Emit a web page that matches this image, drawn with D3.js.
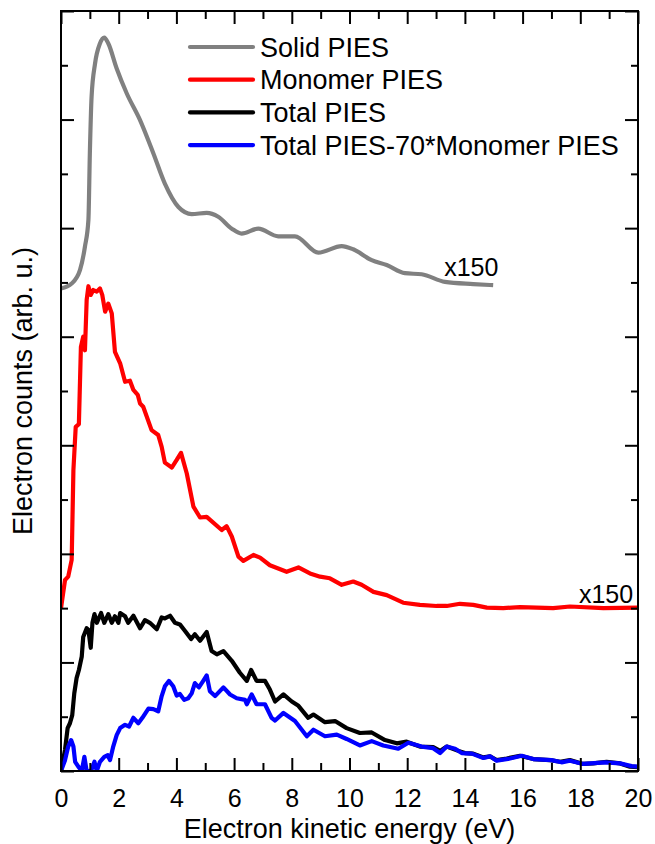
<!DOCTYPE html>
<html>
<head>
<meta charset="utf-8">
<script src="https://cdn.jsdelivr.net/npm/d3@7"></script>
<style>
  body { margin: 0; background: #fff; }
  text { font-family: "Liberation Sans", Arial, sans-serif; fill: #000; }
</style>
</head>
<body>
<script>
// values, y in axis tick units (offsets included)
var solidE = [0, 0.37, 0.66, 0.83, 0.95, 1.0, 1.06, 1.18, 1.35, 1.5, 1.64, 1.93, 2.28, 2.74, 3.2, 3.6, 4.07, 4.53, 5.05, 5.45, 5.92, 6.26, 6.84, 7.53, 8.11, 8.92, 9.73, 10.13, 10.77, 11.29, 11.92, 12.5, 13.31, 14.29, 14.98];
var solidY = [8.89, 8.98, 9.23, 9.66, 10.15, 11.38, 12.42, 13.03, 13.4, 13.51, 13.4, 12.94, 12.48, 11.99, 11.38, 10.82, 10.39, 10.26, 10.28, 10.21, 9.99, 9.9, 9.99, 9.85, 9.85, 9.55, 9.67, 9.61, 9.41, 9.32, 9.17, 9.15, 9.01, 8.97, 8.95];

var monoE = [0, 0.14, 0.25, 0.37, 0.43, 0.51, 0.62, 0.69, 0.77, 0.83, 0.89, 0.95, 1.03, 1.12, 1.24, 1.35, 1.43, 1.53, 1.64, 1.76, 1.87, 2.05, 2.22, 2.39, 2.51, 2.66, 2.74, 2.85, 3.14, 3.37, 3.49, 3.6, 3.84, 4.01, 4.16, 4.36, 4.59, 4.82, 5.05, 5.57, 5.74, 5.92, 6.15, 6.32, 6.67, 6.9, 7.24, 7.82, 8.23, 8.63, 8.98, 9.32, 9.73, 10.13, 10.42, 10.83, 11.29, 11.86, 12.44, 13.02, 13.37, 13.83, 14.29, 14.76, 15.33, 15.91, 17.06, 17.64, 18.8, 20];
var monoY = [3.0, 3.52, 3.58, 3.89, 5.54, 6.34, 6.39, 7.81, 8.0, 7.75, 8.68, 8.93, 8.77, 8.86, 8.83, 8.89, 8.77, 8.46, 8.61, 8.43, 7.72, 7.51, 7.17, 7.19, 7.02, 6.93, 6.77, 6.71, 6.28, 6.19, 5.97, 5.68, 5.59, 5.73, 5.86, 5.48, 4.87, 4.67, 4.68, 4.44, 4.51, 4.32, 3.95, 3.87, 3.98, 3.93, 3.79, 3.67, 3.75, 3.64, 3.58, 3.55, 3.43, 3.49, 3.43, 3.30, 3.24, 3.1, 3.06, 3.04, 3.04, 3.08, 3.06, 3.01, 3.0, 3.02, 3.0, 3.03, 3.0, 3.01];

var totalE = [0, 0.14, 0.23, 0.31, 0.39, 0.46, 0.54, 0.62, 0.72, 0.77, 0.89, 0.95, 1.03, 1.09, 1.16, 1.24, 1.39, 1.5, 1.64, 1.76, 1.87, 1.99, 2.05, 2.22, 2.33, 2.51, 2.74, 2.91, 3.08, 3.32, 3.49, 3.6, 3.78, 3.95, 4.12, 4.3, 4.51, 4.64, 4.82, 5.05, 5.22, 5.4, 5.63, 5.92, 6.2, 6.44, 6.59, 6.78, 7.07, 7.24, 7.42, 7.71, 8.0, 8.23, 8.57, 8.75, 9.15, 9.5, 9.9, 10.36, 10.77, 11.23, 11.64, 11.98, 12.44, 12.9, 13.14, 13.37, 13.72, 14.0, 14.29, 14.64, 14.87, 15.1, 15.45, 15.91, 16.37, 16.95, 17.3, 17.64, 18.1, 18.45, 18.91, 19.38, 19.72, 20];
var totalY = [0, 0.39, 0.79, 0.88, 1.03, 1.43, 1.71, 1.86, 2.11, 2.47, 2.63, 2.6, 2.27, 2.73, 2.89, 2.73, 2.91, 2.73, 2.89, 2.73, 2.85, 2.73, 2.91, 2.85, 2.73, 2.86, 2.63, 2.78, 2.73, 2.61, 2.83, 2.81, 2.86, 2.73, 2.7, 2.58, 2.43, 2.52, 2.4, 2.56, 2.21, 2.15, 2.21, 2.03, 1.81, 1.66, 1.86, 1.66, 1.66, 1.5, 1.28, 1.41, 1.28, 1.2, 0.98, 1.04, 0.9, 0.92, 0.79, 0.7, 0.71, 0.57, 0.51, 0.54, 0.45, 0.44, 0.37, 0.45, 0.38, 0.33, 0.32, 0.25, 0.27, 0.2, 0.23, 0.28, 0.22, 0.2, 0.17, 0.2, 0.13, 0.14, 0.17, 0.14, 0.08, 0.07];

var diffE = [0, 0.14, 0.25, 0.35, 0.43, 0.49, 0.6, 0.72, 0.81, 0.89, 1.04, 1.16, 1.24, 1.35, 1.5, 1.62, 1.7, 1.81, 1.93, 2.05, 2.22, 2.36, 2.51, 2.68, 2.82, 3.03, 3.2, 3.37, 3.49, 3.6, 3.74, 3.89, 4.01, 4.12, 4.27, 4.41, 4.53, 4.64, 4.78, 4.93, 5.05, 5.16, 5.34, 5.63, 5.86, 6.09, 6.38, 6.44, 6.61, 6.78, 7.07, 7.3, 7.42, 7.71, 8.11, 8.52, 8.75, 9.15, 9.56, 9.9, 10.36, 10.77, 11.17, 11.69, 12.04, 12.5, 12.9, 13.14, 13.37, 13.66, 13.89, 14.24, 14.64, 14.87, 15.1, 15.56, 15.97, 16.37, 17.0, 17.35, 17.64, 18.1, 18.86, 19.38, 19.78, 20];
var diffY = [0, 0.2, 0.45, 0.57, 0.45, 0.17, 0.08, 0, 0.26, 0, 0, 0.17, 0, 0.17, 0.26, 0.29, 0.2, 0.45, 0.66, 0.79, 0.85, 0.82, 0.98, 0.88, 0.98, 1.15, 1.14, 1.1, 1.38, 1.56, 1.66, 1.56, 1.39, 1.42, 1.31, 1.34, 1.43, 1.62, 1.54, 1.66, 1.76, 1.47, 1.38, 1.54, 1.41, 1.34, 1.31, 1.23, 1.41, 1.23, 1.23, 0.98, 0.93, 1.07, 0.92, 0.64, 0.76, 0.64, 0.67, 0.59, 0.47, 0.55, 0.47, 0.41, 0.52, 0.45, 0.42, 0.33, 0.45, 0.41, 0.33, 0.32, 0.24, 0.27, 0.19, 0.23, 0.28, 0.22, 0.2, 0.16, 0.19, 0.13, 0.16, 0.14, 0.09, 0.08];

var legendNames = ["Solid PIES", "Monomer PIES", "Total PIES", "Total PIES-70*Monomer PIES"];
var colors = ["#808080", "#ff0000", "#000000", "#0000ff"];
var xMajor = [0, 2, 4, 6, 8, 10, 12, 14, 16, 18, 20];
var xMinor = [1, 3, 5, 7, 9, 11, 13, 15, 17, 19];
var yMajor = [0, 2, 4, 6, 8, 10, 12, 14];
var yMinor = [1, 3, 5, 7, 9, 11, 13];

drawChart();

function drawChart(){

  //plot frame in pixels
  var width = 655, height = 844;
  var pL = 61, pR = 638, pT = 11, pB = 771;

  var svg = d3.select("body").append("svg")
      .attr("width", width)
      .attr("height", height);

  var x = d3.scaleLinear().domain([0, 20]).range([pL, pR]);
  var y = d3.scaleLinear().domain([0, 14]).range([pB, pT]);

  svg.append("clipPath").attr("id", "plot")
    .append("rect")
      .attr("x", pL).attr("y", pT)
      .attr("width", pR - pL).attr("height", pB - pT);

  //series, drawn in order
  var series = [
    {e: solidE, v: solidY, curve: d3.curveMonotoneX},
    {e: monoE, v: monoY, curve: d3.curveLinear},
    {e: totalE, v: totalY, curve: d3.curveLinear},
    {e: diffE, v: diffY, curve: d3.curveLinear}
  ];

  series.forEach(function(s, i){
    var line = d3.line()
        .x(function(d){ return x(d[0]); })
        .y(function(d){ return y(d[1]); })
        .curve(s.curve);
    svg.append("path")
        .datum(d3.zip(s.e, s.v))
        .attr("clip-path", "url(#plot)")
        .attr("fill", "none")
        .attr("stroke", colors[i])
        .attr("stroke-width", 4.2)
        .attr("stroke-linejoin", "round")
        .attr("d", line);
  });

  //axes with inward ticks on all four sides
  function addAxis(axis, tx, ty, values, size){
    var g = svg.append("g")
        .attr("transform", "translate(" + tx + "," + ty + ")")
        .call(axis.tickValues(values).tickSize(-size));
    g.select(".domain").remove();
    g.selectAll(".tick line").attr("stroke", "#000").attr("stroke-width", 2);
    return g;
  }

  var xb = addAxis(d3.axisBottom(x).tickPadding(18), 0, pB, xMajor, 13);
  xb.selectAll("text")
      .attr("font-family", null)
      .attr("font-size", null)
      .style("font-size", "25px")
      .attr("fill", "#000");
  addAxis(d3.axisBottom(x).tickFormat(""), 0, pB, xMinor, 8);
  addAxis(d3.axisTop(x).tickFormat(""), 0, pT, xMajor, 13);
  addAxis(d3.axisTop(x).tickFormat(""), 0, pT, xMinor, 8);
  addAxis(d3.axisLeft(y).tickFormat(""), pL, 0, yMajor, 13);
  addAxis(d3.axisLeft(y).tickFormat(""), pL, 0, yMinor, 7);
  addAxis(d3.axisRight(y).tickFormat(""), pR, 0, yMajor, 13);
  addAxis(d3.axisRight(y).tickFormat(""), pR, 0, yMinor, 7);

  svg.append("rect")
      .attr("x", pL).attr("y", pT)
      .attr("width", pR - pL).attr("height", pB - pT)
      .attr("fill", "none")
      .attr("stroke", "#000")
      .attr("stroke-width", 2);

  //axis titles
  svg.append("text")
      .attr("x", (pL + pR) / 2)
      .attr("y", 838)
      .attr("text-anchor", "middle")
      .style("font-size", "27px")
      .text("Electron kinetic energy (eV)");

  svg.append("text")
      .attr("transform", "translate(32," + ((pT + pB) / 2) + ") rotate(-90)")
      .attr("text-anchor", "middle")
      .style("font-size", "27px")
      .text("Electron counts (arb. u.)");

  //legend
  var legend = svg.append("g").attr("transform", "translate(190,47)");
  legendNames.forEach(function(name, i){
    legend.append("line")
        .attr("x1", 0).attr("x2", 63)
        .attr("y1", i * 32.7).attr("y2", i * 32.7)
        .attr("stroke", colors[i])
        .attr("stroke-width", 4.2)
        .attr("stroke-linecap", "round");
    legend.append("text")
        .attr("x", 70)
        .attr("y", i * 32.7 + 9.5)
        .style("font-size", "27px")
        .text(name);
  });

  //scale factor notes
  svg.append("text")
      .attr("x", x(13.28)).attr("y", y(9.12))
      .style("font-size", "25px")
      .text("x150");
  svg.append("text")
      .attr("x", x(19.83)).attr("y", y(3.1))
      .attr("text-anchor", "end")
      .style("font-size", "25px")
      .text("x150");
}
</script>
</body>
</html>
